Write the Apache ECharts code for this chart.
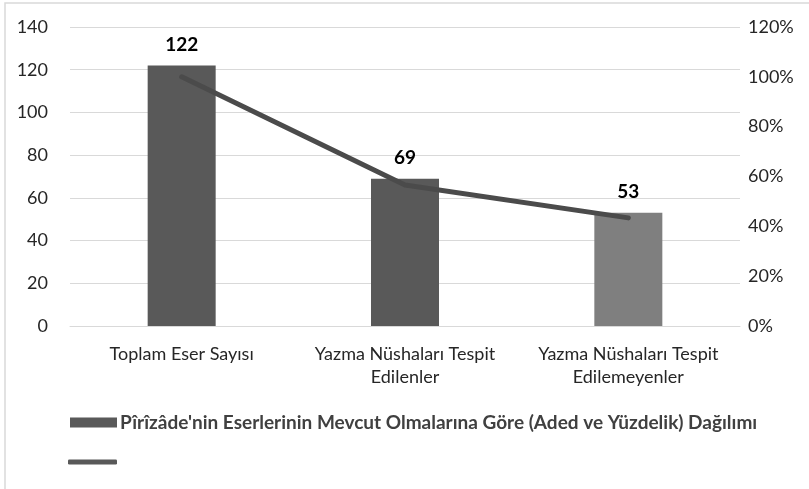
<!DOCTYPE html>
<html><head><meta charset="utf-8">
<script src="https://cdn.jsdelivr.net/npm/echarts@6/dist/echarts.min.js"></script>
<style>html,body{margin:0;padding:0;background:#fff}#c{width:809px;height:489px}</style>
</head><body><div id="c"></div>
<script>
const categories = ["Toplam Eser Sayısı", "Yazma Nüshaları Tespit\nEdilenler", "Yazma Nüshaları Tespit\nEdilemeyenler"];
const counts = [122, 69, 53];
const percents = [100, 56.6, 43.4];
const barColors = ["#595959", "#595959", "#7f7f7f"];
const seriesName = "Pîrîzâde'nin Eserlerinin Mevcut Olmalarına Göre (Aded ve Yüzdelik) Dağılımı";
const leftTicks = {min: 0, max: 140, interval: 20};
const rightTicks = {min: 0, max: 120, interval: 20};

const FONT = 'Lato';
const chart = echarts.init(document.getElementById('c'), null, {renderer: 'canvas'});
chart.setOption({
  animation: false,
  textStyle: {fontFamily: FONT},
  grid: {left: 70, right: 69, top: 27, bottom: 163, containLabel: false},
  graphic: [{
    type: 'polyline', shape: {points: [[5, 489], [5, 3], [809, 3]]},
    style: {stroke: '#d9d9d9', lineWidth: 1.5, fill: null}, silent: true
  }],
  legend: [{
    data: [seriesName], left: 70, top: 413, padding: 0, itemWidth: 47, itemHeight: 10, itemGap: 0,
    icon: 'rect',
    textStyle: {fontFamily: FONT, fontSize: 19, fontWeight: 'bold', color: '#404040', padding: [0, 0, 0, -2]}
  }, {
    data: [' '], left: 68, top: 454, padding: 0, itemWidth: 49, itemHeight: 5, icon: 'roundRect',
    textStyle: {fontSize: 16}
  }],
  xAxis: {
    type: 'category', data: categories,
    axisTick: {show: false},
    axisLine: {show: true, lineStyle: {color: '#d9d9d9', width: 1}},
    axisLabel: {fontFamily: FONT, fontSize: 18, color: '#262626', lineHeight: 23, margin: 17, interval: 0}
  },
  yAxis: [{
    type: 'value', min: leftTicks.min, max: leftTicks.max, interval: leftTicks.interval,
    axisLine: {show: false}, axisTick: {show: false},
    splitLine: {lineStyle: {color: '#d9d9d9', width: 1}},
    axisLabel: {fontFamily: FONT, fontSize: 18, color: '#262626', margin: 22}
  }, {
    type: 'value', min: rightTicks.min, max: rightTicks.max, interval: rightTicks.interval,
    axisLine: {show: false}, axisTick: {show: false}, splitLine: {show: false},
    axisLabel: {fontFamily: FONT, fontSize: 18, color: '#262626', margin: 8, formatter: '{value}%'}
  }],
  series: [{
    name: seriesName, type: 'bar', barWidth: 68,
    data: counts.map((v, i) => ({value: v, itemStyle: {color: barColors[i]}})),
    itemStyle: {color: '#595959'},
    label: {show: true, position: 'top', distance: 11, fontFamily: FONT, fontSize: 19, fontWeight: 'bold', color: '#000'}
  }, {
    name: ' ', type: 'line', yAxisIndex: 1, data: percents,
    showSymbol: false, symbol: 'none',
    lineStyle: {color: '#4b4b4b', width: 5, cap: 'round', join: 'round'},
    itemStyle: {color: '#595959'}
  }]
});
</script></body></html>
